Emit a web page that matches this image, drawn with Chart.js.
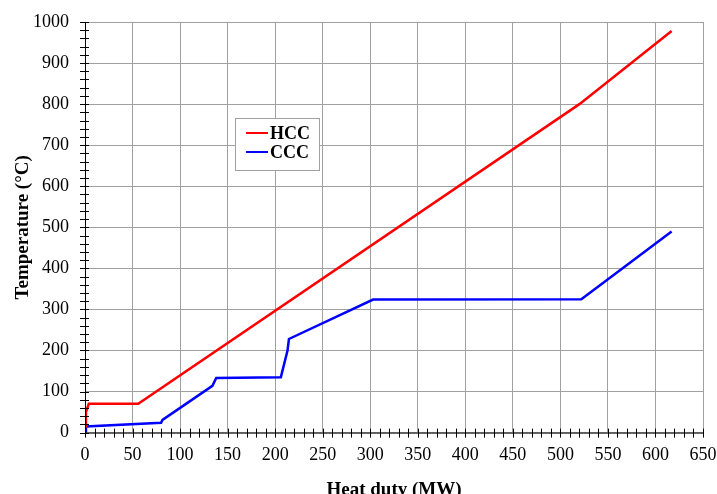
<html>
<head>
    <script src="https://cdn.jsdelivr.net/npm/chart.js@4.4.0/dist/chart.umd.min.js"></script>
    <style>
        body { margin: 0; background: #fff; }
        #wrap { width: 717px; height: 494px; }
    </style>
</head>
<body>
<div id="wrap"><canvas id="myChart" width="717" height="494"></canvas></div>

<script>
    // hot composite curve
    const hccDuty = [0, 1, 4, 56, 520, 617];
    const hccTemp = [15, 50, 70, 70, 800, 978];
    // cold composite curve
    const cccDuty = [0, 1, 80, 81.5, 134, 138, 206, 213, 214.5, 303, 522, 617];
    const cccTemp = [0, 15, 24, 31, 114, 133, 135, 200, 228, 324, 325, 490];

    const seriesNames = ['HCC', 'CCC'];
    const seriesColors = ['#ff0000', '#0000ff'];

    const xMax = 650, xMajor = 50, xMinor = 10;
    const yMax = 1000, yMajor = 100, yMinor = 20;

    const serif = "'Liberation Serif', 'Times New Roman', serif";

    function toPoints(xs, ys) {
        return xs.map((x, i) => ({ x: x, y: ys[i] }));
    }

    // ticks that cross the axis line, minor ones too
    const crossTicks = {
        id: 'crossTicks',
        afterDraw(chart) {
            const c = chart.ctx;
            const xs = chart.scales.x, ys = chart.scales.y;
            const a = chart.chartArea;
            c.save();
            c.strokeStyle = '#000';
            c.lineWidth = 1;
            c.beginPath();
            for (let v = 0; v <= xMax; v += xMinor) {
                const px = Math.round(xs.getPixelForValue(v)) + 0.5;
                c.moveTo(px, a.bottom - 4);
                c.lineTo(px, a.bottom + 5);
            }
            for (let v = 0; v <= yMax; v += yMinor) {
                const py = Math.round(ys.getPixelForValue(v)) + 0.5;
                c.moveTo(a.left - 5, py);
                c.lineTo(a.left + 4, py);
            }
            c.moveTo(a.left + 0.5, a.top);
            c.lineTo(a.left + 0.5, a.bottom);
            c.moveTo(a.left, a.bottom + 0.5);
            c.lineTo(a.right, a.bottom + 0.5);
            c.stroke();
            c.restore();
        }
    };

    // boxed legend inside the plot
    const boxLegend = {
        id: 'boxLegend',
        afterDraw(chart) {
            const c = chart.ctx;
            const a = chart.chartArea;
            const left = a.left + 150, top = a.top + 96;
            const w = 84, h = 52;
            c.save();
            c.fillStyle = '#fff';
            c.fillRect(left, top, w, h);
            c.strokeStyle = '#a0a0a0';
            c.lineWidth = 1;
            c.strokeRect(left + 0.5, top + 0.5, w, h);
            c.font = 'bold 18px ' + serif;
            c.textBaseline = 'middle';
            chart.data.datasets.forEach((ds, i) => {
                const cy = top + 15 + i * 19;
                c.strokeStyle = ds.borderColor;
                c.lineWidth = 2;
                c.beginPath();
                c.moveTo(left + 11, cy);
                c.lineTo(left + 33, cy);
                c.stroke();
                c.fillStyle = '#000';
                c.fillText(ds.label, left + 35, cy + 1);
            });
            c.restore();
        }
    };

    const ctx = document.getElementById('myChart').getContext('2d');
    new Chart(ctx, {
        type: 'scatter',
        data: {
            datasets: [
                {
                    label: seriesNames[0],
                    data: toPoints(hccDuty, hccTemp),
                    showLine: true,
                    borderColor: seriesColors[0],
                    borderWidth: 2.5,
                    pointRadius: 0,
                    fill: false
                },
                {
                    label: seriesNames[1],
                    data: toPoints(cccDuty, cccTemp),
                    showLine: true,
                    borderColor: seriesColors[1],
                    borderWidth: 2.5,
                    pointRadius: 0,
                    fill: false
                }
            ]
        },
        options: {
            responsive: false,
            animation: false,
            layout: { padding: { left: 12, right: 14, top: 22, bottom: -7 } },
            plugins: {
                legend: { display: false },
                tooltip: { enabled: false }
            },
            scales: {
                x: {
                    type: 'linear',
                    min: 0,
                    max: xMax,
                    border: { display: false },
                    afterFit: (scale) => { scale.paddingLeft = 0; scale.paddingRight = 0; },
                    grid: {
                        color: (c) => (c.tick && c.tick.value % xMajor === 0) ? '#a0a0a0' : 'rgba(0,0,0,0)',
                        drawTicks: false
                    },
                    ticks: {
                        stepSize: xMinor,
                        autoSkip: false,
                        maxRotation: 0,
                        padding: 12,
                        color: '#000',
                        font: { family: serif, size: 18 },
                        callback: (v) => v % xMajor === 0 ? v : ''
                    },
                    title: {
                        display: true,
                        text: 'Heat duty (MW)',
                        color: '#000',
                        font: { family: serif, size: 19, weight: 'bold' },
                        padding: { top: 0, bottom: 0 }
                    }
                },
                y: {
                    type: 'linear',
                    min: 0,
                    max: yMax,
                    border: { display: false },
                    afterFit: (scale) => { scale.width = 73; scale.paddingTop = 0; scale.paddingBottom = 0; },
                    grid: {
                        color: (c) => (c.tick && c.tick.value % yMajor === 0) ? '#a0a0a0' : 'rgba(0,0,0,0)',
                        drawTicks: false
                    },
                    ticks: {
                        stepSize: yMinor,
                        autoSkip: false,
                        padding: 16,
                        color: '#000',
                        font: { family: serif, size: 18 },
                        callback: (v) => v % yMajor === 0 ? v : ''
                    },
                    title: {
                        display: true,
                        text: 'Temperature (°C)',
                        color: '#000',
                        font: { family: serif, size: 19, weight: 'bold' },
                        padding: { top: 0, bottom: 0 }
                    }
                }
            }
        },
        plugins: [crossTicks, boxLegend]
    });
</script>
</body>
</html>
